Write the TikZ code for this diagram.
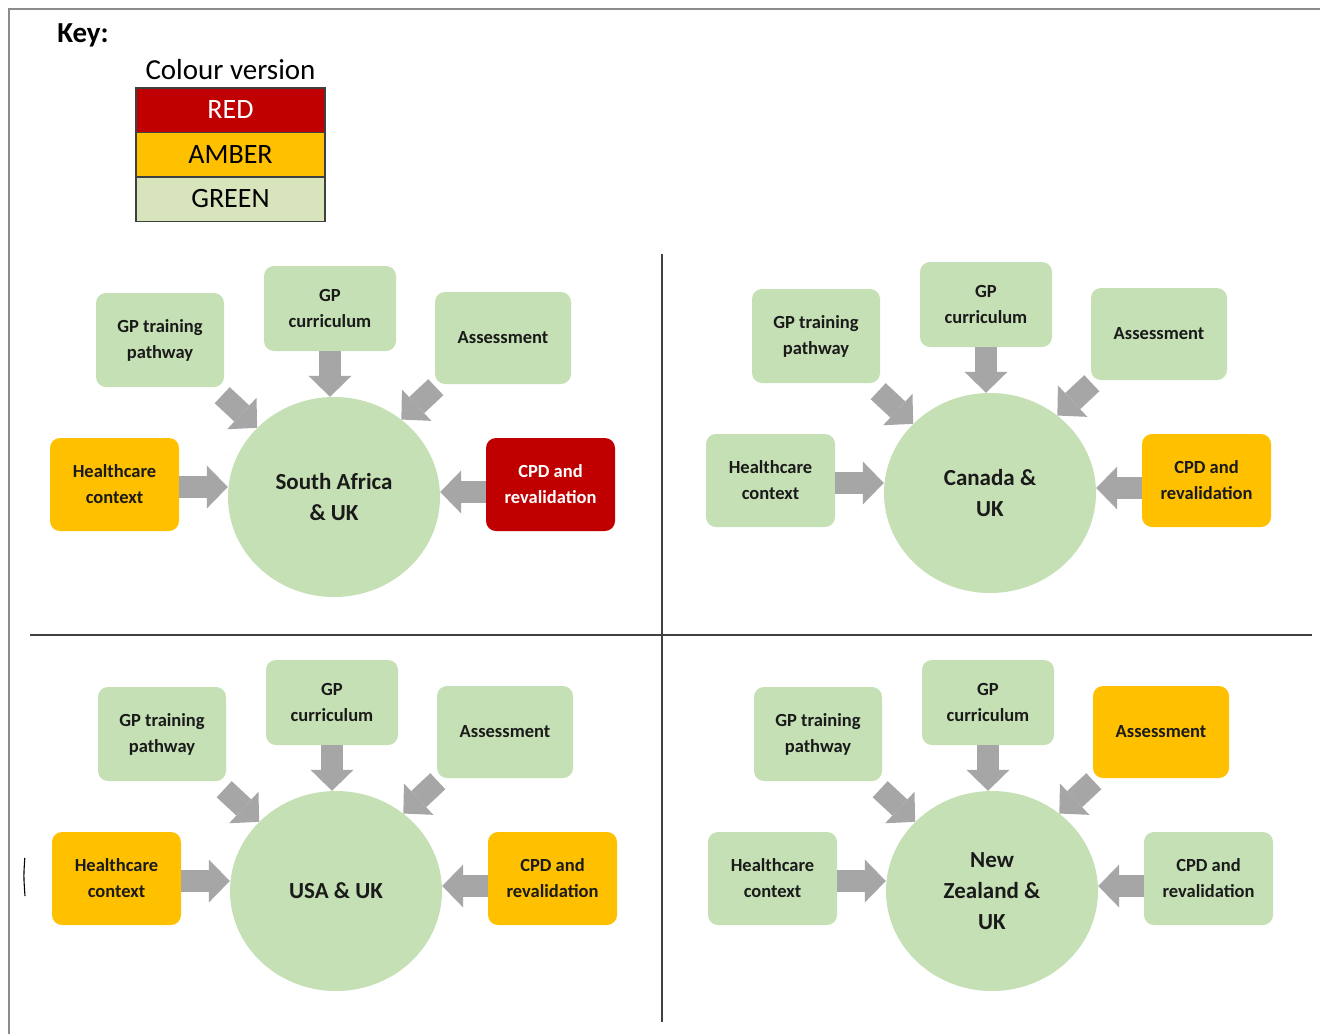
\documentclass[tikz,border=0pt]{standalone}
\usepackage{fontspec}
\setmainfont{Carlito}
\usetikzlibrary{arrows.meta,shapes.geometric}
\definecolor{cgreen}{HTML}{C5E0B4}
\definecolor{kgreen}{HTML}{D8E4BC}
\definecolor{cred}{HTML}{C00000}
\definecolor{camber}{HTML}{FFC000}
\definecolor{carrow}{HTML}{A6A6A6}
\definecolor{ctext}{HTML}{1A1A1A}
\definecolor{cline}{HTML}{404040}
\tikzset{
  topic/.style={rounded corners=10pt, align=center, inner sep=0pt, text=ctext,
    font=\bfseries\fontsize{18.5}{26}\selectfont},
  gbox/.style={topic, fill=cgreen},
  abox/.style={topic, fill=camber},
  rbox/.style={topic, fill=cred, text=white},
  hub/.style={ellipse, fill=cgreen, inner sep=0pt, minimum width=212pt, minimum height=200pt,
    align=center, text=ctext, font=\bfseries\fontsize{23}{31}\selectfont},
  blockarrow/.style={draw=carrow, line width=22pt,
    -{Triangle[length=21pt,width=43pt,line width=0pt]}},
  keycell/.style={draw=cline, line width=1.5pt, minimum width=189pt, minimum height=44.5pt,
    inner sep=0pt, font=\fontsize{28}{30}\selectfont},
}
\newcommand\drawpanel[9]{%
\begin{scope}[shift={(#1,#2)}]
  \node[#5, minimum width=128pt, minimum height=94pt] (#3gpt) at (160,340) {GP training\\pathway};
  \node[#6, minimum width=132pt, minimum height=85pt] (#3cur) at (330,308.5) {GP\\curriculum};
  \node[#7, minimum width=136pt, minimum height=92pt] (#3ass) at (503,338) {Assessment};
  \node[#8, minimum width=129pt, minimum height=93pt] (#3hc) at (114.5,484.5) {Healthcare\\context};
  \node[#9, minimum width=129pt, minimum height=93pt] (#3cpd) at (550.5,484.5) {CPD and\\revalidation};
  \node[hub] (#3c) at (334,497) {#4};
  \coordinate (#3hcs) at ([yshift=-2.5pt]#3hc.east);
  \coordinate (#3cps) at ([yshift=-7.5pt]#3cpd.west);
  \coordinate (#3gps) at ([shift={(-2,8)}]#3gpt.south east);
  \coordinate (#3ass0) at ([shift={(1,3)}]#3ass.south west);
  \draw[blockarrow] (#3cur.south) -- (#3cur.south |- #3c.north);
  \draw[blockarrow] (#3hcs) -- (#3hcs -| #3c.west);
  \draw[blockarrow] (#3cps) -- (#3cps -| #3c.east);
  \draw[blockarrow] (#3gps) -- (#3c.138);
  \draw[blockarrow] (#3ass0) -- (#3c.49);
\end{scope}}
\begin{document}
\begin{tikzpicture}[x=1pt,y=-1pt]
\useasboundingbox (0,0) rectangle (1320,1034);
\fill[white] (0,0) rectangle (1320,1034);
% page frame
\draw[line width=2pt, color=black!45] (1320,8.5) -- (8.5,8.5) -- (8.5,1034);
% stray mark
\draw[line width=1.1pt] (24.8,858) .. controls (23.6,876) .. (25,896);
% key
\node[font=\bfseries\fontsize{29}{32}\selectfont] (key) at (83,35) {Key:};
\node[font=\fontsize{29}{32}\selectfont] (cv) at (230.5,70) {Colour version};
\node[keycell, fill=cred, text=white] (kred) at (230.5,110) {RED};
\node[keycell, fill=camber] (kamber) at (230.5,154.5) {AMBER};
\node[keycell, fill=kgreen] (kgreen) at (230.5,199) {GREEN};
% dividers
\draw[line width=2pt, color=cline] (662,254) -- (662,1022);
\draw[line width=2pt, color=cline] (30,635) -- (1312,635);
% panels
\drawpanel{0}{0}{sa}{South Africa\\\& UK}{gbox}{gbox}{gbox}{abox}{rbox}
\drawpanel{656}{-4}{ca}{Canada \&\\UK}{gbox}{gbox}{gbox}{gbox}{abox}
\drawpanel{2}{394}{us}{USA \& UK}{gbox}{gbox}{gbox}{abox}{abox}
\drawpanel{658}{394}{nz}{New\\Zealand \&\\UK}{gbox}{gbox}{abox}{gbox}{gbox}
\end{tikzpicture}
\end{document}
